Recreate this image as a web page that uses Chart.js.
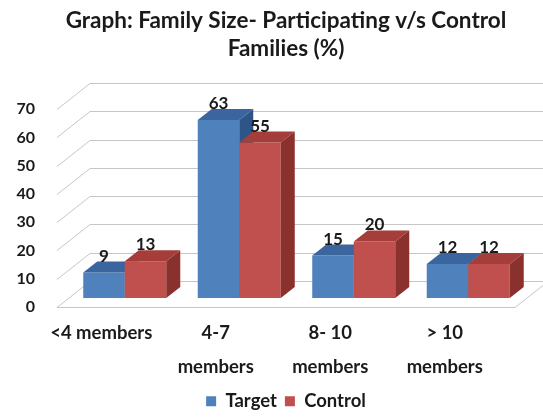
<!DOCTYPE html>
<html><head><meta charset="utf-8">
<script src="https://cdn.jsdelivr.net/npm/chart.js@4.4.1/dist/chart.umd.min.js"></script>
<style>html,body{margin:0;padding:0;background:#fff}</style>
</head><body>
<canvas id="c" width="543" height="417" style="display:block;width:543px;height:417px"></canvas>
<script>
const categories = ['<4 members', ['4-7', 'members'], ['8- 10', 'members'], ['> 10', 'members']];
const targetValues = [9, 63, 15, 12];
const controlValues = [13, 55, 20, 12];
const seriesNames = ['Target', 'Control'];
const yMin = 0, yMax = 70, yStep = 10;

const FONT = 'Lato, "Open Sans", sans-serif';
const WALL = { dx: 33, dy: -26 };
const BAR_SHIFT = { dx: 10.5, dy: -9 };
const BAR_DEPTH = { dx: 14, dy: -11 };
const FACE = [
  { top: '#3B659E', side: '#2E5587' },
  { top: '#A53D3A', side: '#8A312E' }
];

const box3d = {
  id: 'box3d',
  beforeDatasetsDraw(chart) {
    const { ctx, chartArea: a, scales: { y } } = chart;
    ctx.save();
    ctx.strokeStyle = '#c6c6c6';
    ctx.lineWidth = 1;
    y.ticks.forEach(t => {
      const py = Math.round(y.getPixelForValue(t.value)) + 0.5;
      ctx.beginPath();
      ctx.moveTo(a.left, py);
      ctx.lineTo(a.left + WALL.dx, py + WALL.dy);
      ctx.lineTo(a.right + WALL.dx, py + WALL.dy);
      ctx.stroke();
    });
    const pb = Math.round(y.getPixelForValue(yMin)) + 0.5;
    ctx.beginPath();
    ctx.moveTo(a.left, pb);
    ctx.lineTo(a.right, pb);
    ctx.lineTo(a.right + WALL.dx, pb + WALL.dy);
    ctx.stroke();
    ctx.restore();
  },
  beforeDatasetDraw() { return false; },
  afterDatasetsDraw(chart) {
    const { ctx } = chart;
    const metas = chart.getSortedVisibleDatasetMetas();
    const n = chart.data.labels.length;
    const labelsToDraw = [];
    for (let i = 0; i < n; i++) {
      metas.forEach((meta, d) => {
        const el = meta.data[i];
        const { x, y, base, width } = el.getProps(['x', 'y', 'base', 'width'], true);
        const l = x - width / 2, r = x + width / 2;
        ctx.save();
        ctx.translate(BAR_SHIFT.dx, BAR_SHIFT.dy);
        el.draw(ctx);
        ctx.fillStyle = FACE[d].top;
        ctx.beginPath();
        ctx.moveTo(l, y);
        ctx.lineTo(l + BAR_DEPTH.dx, y + BAR_DEPTH.dy);
        ctx.lineTo(r + BAR_DEPTH.dx, y + BAR_DEPTH.dy);
        ctx.lineTo(r, y);
        ctx.closePath();
        ctx.fill();
        ctx.fillStyle = FACE[d].side;
        ctx.beginPath();
        ctx.moveTo(r, y);
        ctx.lineTo(r + BAR_DEPTH.dx, y + BAR_DEPTH.dy);
        ctx.lineTo(r + BAR_DEPTH.dx, base + BAR_DEPTH.dy);
        ctx.lineTo(r, base);
        ctx.closePath();
        ctx.fill();
        ctx.restore();
        labelsToDraw.push({ text: String(chart.data.datasets[meta.index].data[i]), x: x + BAR_SHIFT.dx, y: y + BAR_SHIFT.dy + BAR_DEPTH.dy + 3 });
      });
    }
    ctx.save();
    ctx.fillStyle = '#1a1a1a';
    ctx.font = 'bold 17px ' + FONT;
    ctx.textAlign = 'center';
    ctx.textBaseline = 'bottom';
    labelsToDraw.forEach(o => ctx.fillText(o.text, o.x, o.y));
    ctx.restore();
  }
};

new Chart(document.getElementById('c'), {
  type: 'bar',
  data: {
    labels: categories,
    datasets: [
      { label: seriesNames[0], data: targetValues, backgroundColor: '#4F81BD', yAxisID: 'y' },
      { label: seriesNames[1], data: controlValues, backgroundColor: '#C0504D', yAxisID: 'y' }
    ]
  },
  options: {
    responsive: false,
    animation: false,
    devicePixelRatio: 1,
    categoryPercentage: 0.725,
    barPercentage: 1,
    layout: { padding: { left: 0, right: 0, top: 0, bottom: -3.5 } },
    plugins: {
      title: {
        display: true,
        fullSize: false,
        text: ['Graph: Family Size- Participating v/s Control', 'Families (%)'],
        color: '#1a1a1a',
        font: { family: FONT, size: 22.5, weight: 'bold', lineHeight: 1.27 },
        padding: { top: 6, bottom: 46 }
      },
      legend: {
        position: 'bottom',
        fullSize: false,
        labels: {
          color: '#1a1a1a',
          font: { family: FONT, size: 18.5, weight: 'bold' },
          boxWidth: 10, boxHeight: 10, padding: 8
        }
      },
      tooltip: { enabled: false }
    },
    scales: {
      x: {
        grid: { display: false, drawTicks: false },
        border: { display: false },
        ticks: {
          color: '#1a1a1a',
          font: { family: FONT, size: 18.5, weight: 'bold', lineHeight: 1.84 },
          padding: 9, labelOffset: -13, maxRotation: 0, autoSkip: false
        },
        afterFit(s) { s.height = 77; }
      },
      y: {
        position: 'left',
        min: yMin, max: yMax,
        grid: { display: false, drawTicks: false },
        border: { display: false },
        ticks: {
          stepSize: yStep,
          color: '#1a1a1a',
          font: { family: FONT, size: 16, weight: 'bold' },
          padding: 22
        },
        afterFit(s) { s.width = 57; }
      },
      yRight: {
        position: 'right',
        display: true,
        grid: { display: false, drawTicks: false },
        border: { display: false },
        ticks: { display: false },
        afterFit(s) { s.width = 28; }
      }
    }
  },
  plugins: [box3d]
});
</script>
</body></html>
